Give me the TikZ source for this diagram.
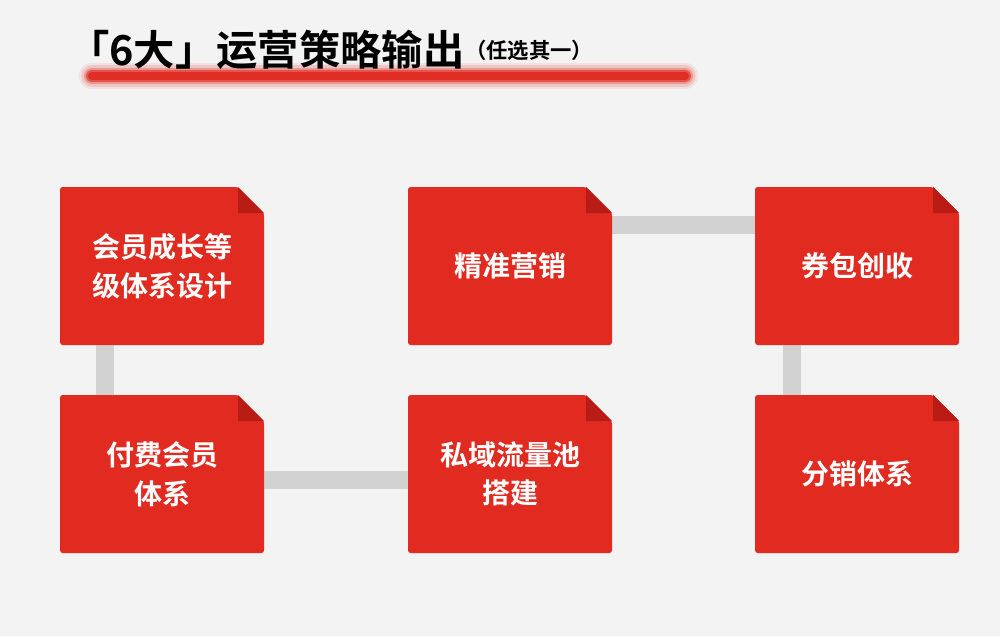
\documentclass[tikz,border=0pt]{standalone}
\usepackage{fontspec}
\setmainfont{Noto Sans CJK SC Bold}
\definecolor{bg}{HTML}{F3F3F3}
\definecolor{boxred}{HTML}{E12A20}
\definecolor{foldred}{HTML}{B81C14}
\definecolor{linkgray}{HTML}{D2D2D2}
\begin{document}
\begin{tikzpicture}[x=0.75pt,y=-0.75pt,
  link/.style={linkgray,line width=13.5pt},
  boxtxt/.style={text=white,font=\fontsize{21}{29}\selectfont,align=center}]
\fill[bg] (0,0) rectangle (1000,636);
\useasboundingbox (0,0) rectangle (1000,636);
% underline glow
\foreach \w/\o in {20/0.08,16/0.15,12/0.3,9/0.6,6/0.9}{
  \draw[boxred,line width=\w pt,line cap=round,opacity=\o] (92,76) -- (685,76);}
\node[anchor=west,font=\fontsize{31}{36}\selectfont,inner sep=0] (title) at (68,50) {「6大」运营策略输出};
\node[anchor=west,font=\fontsize{16}{20}\selectfont,inner sep=0] (sub) at (title.east) {（任选其一）};
% coordinates of box centers
\coordinate (c11) at (162,266); \coordinate (c12) at (510,266); \coordinate (c13) at (857,266);
\coordinate (c21) at (162,474); \coordinate (c22) at (510,474); \coordinate (c23) at (857,474);
% links
\draw[link] (105,300) -- (105,420);
\draw[link] (230,480) -- (440,480);
\draw[link] (580,225) -- (790,225);
\draw[link] (792,300) -- (792,420);
% boxes
\foreach \c/\t/\n in {c11/{会员成长等\\级体系设计}/b1, c12/{精准营销}/b2, c13/{券包创收}/b3,
                      c21/{付费会员\\体系}/b4, c22/{私域流量池\\搭建}/b5, c23/{分销体系}/b6}{
  \begin{scope}[shift={(\c)}]
    \fill[boxred,rounded corners=2pt] (-102,-79) -- (76,-79) -- (102,-53) -- (102,79) -- (-102,79) -- cycle;
    \fill[foldred] (76,-79) -- (102,-53) -- (76,-53) -- cycle;
    \node[boxtxt] (\n) at (0,0) {\t};
  \end{scope}}
\end{tikzpicture}
\end{document}
